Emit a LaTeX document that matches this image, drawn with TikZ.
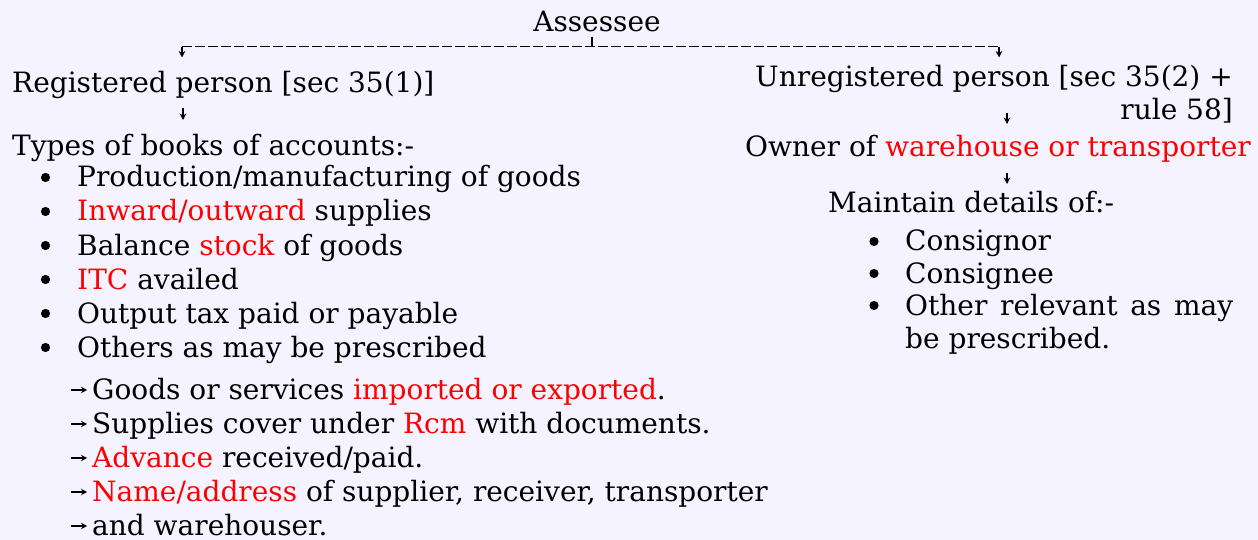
\documentclass[tikz,border=0pt]{standalone}
\usepackage{fontspec}
\setmainfont{DejaVu Serif}
\usetikzlibrary{arrows.meta}
\definecolor{bg}{RGB}{245,243,255}
\definecolor{hl}{RGB}{255,0,0}
\newcommand{\hi}[1]{\textcolor{hl}{#1}}
\tikzset{
  txt/.style={anchor=base west, inner sep=0pt, font=\fontsize{28}{34}\selectfont},
  txtr/.style={anchor=base east, inner sep=0pt, font=\fontsize{28}{34}\selectfont},
  arr/.style={line width=1.5pt, -{Stealth[length=6.5pt,width=6.5pt]}},
  conn/.style={line width=1.5pt},
  dashconn/.style={line width=1.5pt, dash pattern=on 10pt off 3pt},
  dot/.style={fill=black},
  subarr/.style={line width=1.7pt, -{Stealth[length=6pt,width=6.5pt]}}
}
\begin{document}
\begin{tikzpicture}[x=1pt,y=-1pt]
\fill[bg] (0,0) rectangle (1258,540);
\useasboundingbox (0,0) rectangle (1258,540);

% top
\node[txt, anchor=base] (ass) at (597,32) {Assessee};
\coordinate (t0) at (592,37);
\coordinate (t1) at (592,46.7);
\coordinate (tl) at (182,46.7);
\coordinate (tr) at (999,46.7);
\coordinate (tlb) at (182,57.5);
\coordinate (trb) at (999,57.5);
\draw[conn] (t0) -- (t1);
\draw[dashconn] (tl) -- (tr);
\draw[arr] (tl) -- (tlb);
\draw[arr] (tr) -- (trb);

% left branch
\node[txt] (reg) at (12,93) {Registered person [sec 35(1)]};
\node[txt] (types) at (12,156) {Types of books of accounts:-};
\coordinate (ra) at (183,108);
\coordinate (rb) at (183,120);
\draw[arr] (ra) -- (rb);

\foreach \i/\t in {0/{Production/manufacturing of goods},
                   1/{\hi{Inward/outward} supplies},
                   2/{Balance \hi{stock} of goods},
                   3/{\hi{ITC} availed},
                   4/{Output tax paid or payable},
                   5/{Others as may be prescribed}}{
  \node[txt] (li\i) at (77,187+34*\i) {\t};
  \fill[dot] (45.5,177.5+34*\i) circle (4.6pt);
}

\foreach \i/\t in {0/{Goods or services \hi{imported or exported}.},
                   1/{Supplies cover under \hi{Rcm} with documents.},
                   2/{\hi{Advance} received/paid.},
                   3/{\hi{Name/address} of supplier, receiver, transporter},
                   4/{and warehouser.}}{
  \node[txt] (sub\i) at (92,399.3+34*\i) {\t};
  \coordinate (sa\i) at (71,390+34*\i);
  \coordinate (sb\i) at (87,390+34*\i);
  \draw[subarr] (sa\i) -- (sb\i);
}

% right branch
\node[txtr] (unreg) at (1233,87) {Unregistered person [sec 35(2) +};
\node[txtr] (unreg2) at (1233,120) {rule 58]};
\coordinate (ua) at (1007,113);
\coordinate (ub) at (1007,124);
\draw[arr] (ua) -- (ub);
\node[txt] (own) at (745,157) {Owner of \hi{warehouse or transporter}};
\coordinate (oa) at (1007,173);
\coordinate (ob) at (1007,184);
\draw[arr] (oa) -- (ob);
\node[txt] (main) at (828,212) {Maintain details of:-};

\node[txt] (c0) at (905,251) {Consignor};
\node[txt] (c1) at (905,283) {Consignee};
\node[txt] (c2) at (905,315) {\hbox to 328pt{Other\hfill relevant\hfill as\hfill may}};
\node[txt] (c3) at (905,348) {be prescribed.};
\foreach \y in {241.5,273.5,305.5}{
  \fill[dot] (874,\y) circle (4.6pt);
}
\end{tikzpicture}
\end{document}
